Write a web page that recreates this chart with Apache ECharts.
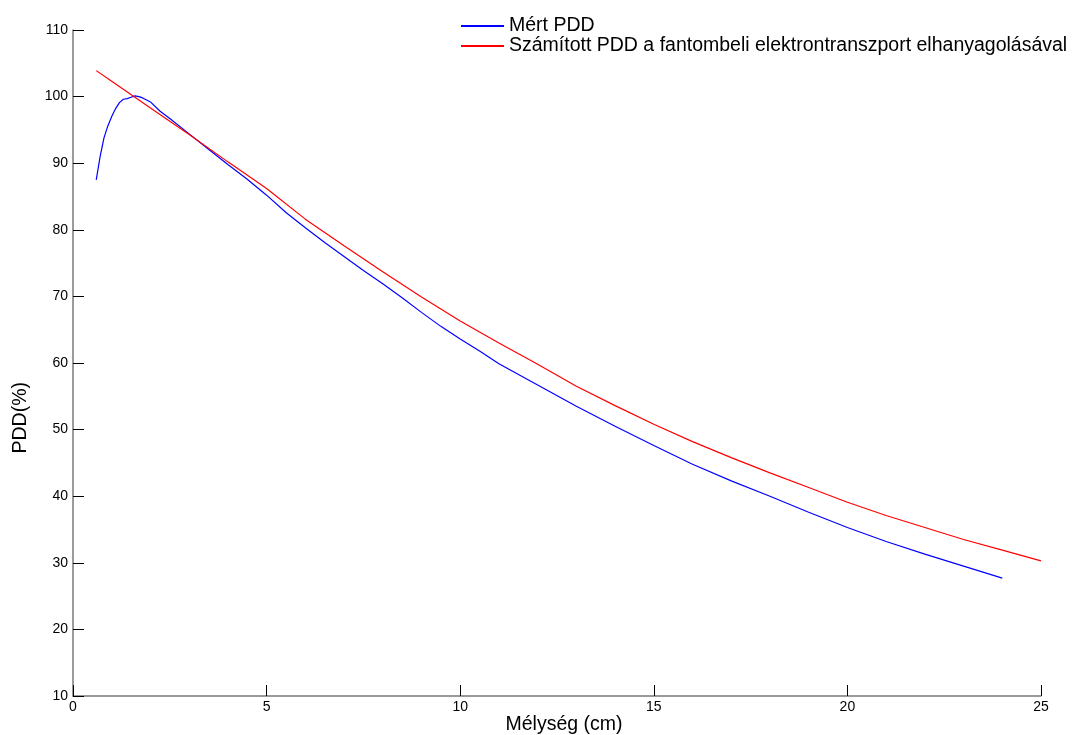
<!DOCTYPE html>
<html>
<head>
<meta charset="utf-8">
<script src="https://cdn.jsdelivr.net/npm/echarts@6/dist/echarts.min.js"></script>
<style>
html,body{margin:0;padding:0;background:#fff;}
#chart{width:1072px;height:735px;}
</style>
</head>
<body>
<div id="chart"></div>
<script>
// Measured PDD (Mért PDD)
var measuredDepth = [0.6,0.7,0.8,0.9,1.0,1.1,1.2,1.3,1.4,1.5,1.6,1.7,1.8,2.0,2.25,2.5,3.0,3.5,4.0,4.5,5.0,5.5,6.0,6.5,7.0,7.5,8.0,8.5,9.0,9.5,10.0,10.5,11.0,12.0,13.0,14.0,15.0,16.0,17.0,18.0,19.0,20.0,21.0,22.0,23.0,24.0];
var measuredPDD   = [87.5,91.0,93.8,95.6,97.0,98.2,99.1,99.6,99.7,99.9,100.1,100.0,99.8,99.2,97.8,96.7,94.4,92.1,89.8,87.6,85.2,82.6,80.3,78.1,76.0,73.9,71.9,69.8,67.6,65.5,63.6,61.8,59.9,56.7,53.5,50.5,47.6,44.8,42.3,40.0,37.6,35.3,33.2,31.3,29.5,27.7];
// Calculated PDD (Számított PDD ...)
var calcDepth = [0.6,1,2,3,4,5,6,7,8,9,10,11,12,13,14,15,16,17,18,19,20,21,22,23,24,25];
var calcPDD   = [103.9,102.3,98.3,94.3,90.2,86.2,81.6,77.6,73.7,69.9,66.3,63.0,59.8,56.5,53.6,50.8,48.2,45.8,43.5,41.3,39.1,37.1,35.3,33.5,31.9,30.3];

var seriesNames = ['Mért PDD', 'Számított PDD a fantombeli elektrontranszport elhanyagolásával'];
var xTicks = [0,5,10,15,20,25];
var yTicks = [10,20,30,40,50,60,70,80,90,100,110];
var xTitle = 'Mélység (cm)';
var yTitle = 'PDD(%)';

function pairs(xs, ys){ return xs.map(function(x,i){ return [x, ys[i]]; }); }

var font = '"Liberation Sans", Arial, sans-serif';
var chart = echarts.init(document.getElementById('chart'), null, {renderer:'canvas'});
chart.setOption({
  backgroundColor: '#ffffff',
  animation: false,
  grid: {left: 73, right: 31, top: 30, bottom: 39, containLabel: false, outerBoundsMode: 'none'},
  legend: {
    orient: 'vertical',
    left: 456, top: 11,
    itemWidth: 43, itemHeight: 2, itemGap: 0,
    icon: 'rect',
    textStyle: {fontFamily: font, fontSize: 19.5, color: '#000', lineHeight: 19.5},
    data: seriesNames
  },
  xAxis: {
    type: 'value', min: xTicks[0], max: xTicks[xTicks.length-1], interval: 5,
    name: xTitle, nameLocation: 'middle', nameGap: 19, nameMoveOverlap: false,
    nameTextStyle: {fontFamily: font, fontSize: 19.5, color: '#000', padding: [0,0,0,14], lineHeight: 20},
    axisLine: {show: true, lineStyle: {color: '#7a7a7a', width: 1.5}},
    axisTick: {show: true, inside: true, length: 11, lineStyle: {color: '#000', width: 1}},
    axisLabel: {fontFamily: font, fontSize: 14, color: '#000', margin: 4},
    splitLine: {show: false}
  },
  yAxis: {
    type: 'value', min: yTicks[0], max: yTicks[yTicks.length-1], interval: 10,
    axisLine: {show: true, lineStyle: {color: '#7a7a7a', width: 1.5}},
    axisTick: {show: true, inside: true, length: 11, lineStyle: {color: '#000', width: 1}},
    axisLabel: {fontFamily: font, fontSize: 14, color: '#000', margin: 5},
    splitLine: {show: false}
  },
  graphic: [{
    type: 'text', left: 11, top: 382,
    rotation: Math.PI/2,
    style: {text: yTitle, font: '19.5px ' + font, fill: '#000'}
  }],
  series: [
    {name: seriesNames[0], type: 'line', data: pairs(measuredDepth, measuredPDD),
     showSymbol: false, symbol: 'none', smooth: false,
     lineStyle: {color: '#0000ff', width: 1.2}, itemStyle: {color: '#0000ff'}},
    {name: seriesNames[1], type: 'line', data: pairs(calcDepth, calcPDD),
     showSymbol: false, symbol: 'none', smooth: false,
     lineStyle: {color: '#ff0000', width: 1.2}, itemStyle: {color: '#ff0000'}}
  ]
});
</script>
</body>
</html>
